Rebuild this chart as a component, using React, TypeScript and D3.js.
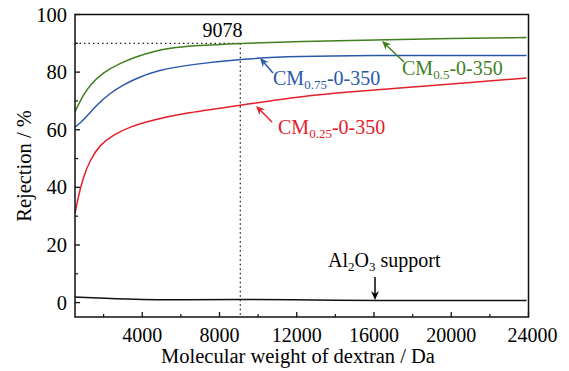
import React from "react";
import * as d3 from "d3";

const mwGreen = [518, 950, 1300, 1980, 2850, 3720, 4580, 5440, 6480, 9078, 12200, 16000, 20000, 23900];
const rejGreen = [66.3, 72.1, 75.6, 79.9, 83.1, 85.4, 87.2, 88.3, 89.1, 90, 90.6, 91.2, 91.7, 92];

const mwBlue = [518, 780, 1120, 1640, 2330, 3020, 3720, 4750, 6480, 9078, 12000, 16000, 20000, 23900];
const rejBlue = [60.9, 62.3, 64.6, 68.6, 72.7, 75.6, 77.9, 80.6, 82.6, 84.6, 85.5, 85.8, 85.8, 85.8];

const mwRed = [518, 690, 950, 1300, 1810, 2500, 3370, 4580, 6000, 9078, 12200, 15000, 18000, 21000, 23900];
const rejRed = [31, 36.8, 43.7, 49.5, 54.8, 58.2, 61.1, 63.4, 65.6, 68.5, 71.6, 73.3, 74.8, 76.4, 78];

const mwBlack = [518, 2000, 4000, 6000, 9000, 12000, 14000, 16000, 20000, 23900];
const rejBlack = [1.9, 1.5, 1.0, 0.9, 1.2, 1.0, 0.8, 0.7, 0.7, 0.7];

const xTicks = [4000, 8000, 12000, 16000, 20000, 24000];
const xMinor = [2000, 6000, 10000, 14000, 18000, 22000];
const yTicks = [0, 20, 40, 60, 80, 100];
const yMinor = [10, 30, 50, 70, 90];

const markMw = 9078;
const markRej = 90;

const W = 569, H = 371;
const L = 75, R = 528.5, T = 14.5, B = 317;

const ts = { fontFamily: "Liberation Serif" };

function Arrow({ x1, y1, x2, y2, color }: { x1: number; y1: number; x2: number; y2: number; color: string }) {
  const ang = Math.atan2(y2 - y1, x2 - x1);
  const hl = 9, hw = 4;
  const bx = x2 - hl * Math.cos(ang), by = y2 - hl * Math.sin(ang);
  const px = -Math.sin(ang) * hw, py = Math.cos(ang) * hw;
  const head = `M${x2},${y2}L${bx + px},${by + py}L${x2 - 6 * Math.cos(ang)},${y2 - 6 * Math.sin(ang)}L${bx - px},${by - py}Z`;
  return (
    <g>
      <line x1={x1} y1={y1} x2={x2 - 5 * Math.cos(ang)} y2={y2 - 5 * Math.sin(ang)} stroke={color} strokeWidth={1.5} />
      <path d={head} fill={color} />
    </g>
  );
}

export default function App() {
  const x = d3.scaleLinear().domain([518, 24000]).range([L, R]);
  const y = d3.scaleLinear().domain([-5, 100]).range([B, T]);

  const mk = (xs: number[], ys: number[]) =>
    d3.line<number>().x((_, i) => x(xs[i])).y((_, i) => y(ys[i])).curve(d3.curveBasis)(xs) || "";

  const green = "#3f7f1f";
  const blue = "#2a58aa";
  const red = "#e3202b";

  return (
    <svg width={W} height={H} style={{ position: "absolute", left: 0, top: 0 }}>
      <rect width={W} height={H} fill="#fff" />
      <line x1={L} x2={x(markMw)} y1={y(markRej)} y2={y(markRej)} stroke="#222" strokeWidth={1.3} strokeDasharray="1.5,3" />
      <line x1={x(markMw)} x2={x(markMw)} y1={y(markRej)} y2={B} stroke="#222" strokeWidth={1.3} strokeDasharray="1.5,3" />
      <text x={222.5} y={36.5} fontSize={20} textAnchor="middle" fill="#000" style={ts}>{markMw}</text>

      <path d={mk(mwGreen, rejGreen)} fill="none" stroke={green} strokeWidth={1.5} />
      <path d={mk(mwBlue, rejBlue)} fill="none" stroke={blue} strokeWidth={1.5} />
      <path d={mk(mwRed, rejRed)} fill="none" stroke={red} strokeWidth={1.5} />
      <path d={mk(mwBlack, rejBlack)} fill="none" stroke="#111" strokeWidth={1.5} />

      <rect x={L} y={T} width={R - L} height={B - T} fill="none" stroke="#111" strokeWidth={1.5} />

      {xTicks.map((t) => (
        <g key={"xt" + t}>
          <line x1={x(t)} x2={x(t)} y1={B} y2={B - 5} stroke="#111" strokeWidth={1.3} />
          <text x={x(t) + (t === 24000 ? 4 : 0)} y={342} fontSize={20} textAnchor="middle" fill="#000" style={ts}>{t}</text>
        </g>
      ))}
      {xMinor.map((t) => (
        <line key={"xm" + t} x1={x(t)} x2={x(t)} y1={B} y2={B - 3} stroke="#111" strokeWidth={1.2} />
      ))}
      {yTicks.map((t) => (
        <g key={"yt" + t}>
          <line x1={L} x2={L + 5} y1={y(t)} y2={y(t)} stroke="#111" strokeWidth={1.3} />
          <text x={67} y={y(t) + 7} fontSize={20.5} textAnchor="end" fill="#000" style={ts}>{t}</text>
        </g>
      ))}
      {yMinor.map((t) => (
        <line key={"ym" + t} x1={L} x2={L + 3} y1={y(t)} y2={y(t)} stroke="#111" strokeWidth={1.2} />
      ))}

      <text x={298} y={363} fontSize={20.5} textAnchor="middle" fill="#000" style={ts}>Molecular weight of dextran / Da</text>
      <text transform="translate(31,166) rotate(-90)" fontSize={20.5} textAnchor="middle" fill="#000" style={ts}>Rejection / %</text>

      <Arrow x1={404} y1={62} x2={382} y2={41} color={green} />
      <text x={402} y={75} fontSize={20} fill={green} style={ts}>
        CM<tspan fontSize={13} dy={4}>0.5</tspan><tspan dy={-4}>-0-350</tspan>
      </text>

      <Arrow x1={273} y1={73} x2={260} y2={58} color={blue} />
      <text x={273} y={85} fontSize={20} fill={blue} style={ts}>
        CM<tspan fontSize={13} dy={4}>0.75</tspan><tspan dy={-4}>-0-350</tspan>
      </text>

      <Arrow x1={272} y1={122} x2={256} y2={106} color={red} />
      <text x={278} y={134} fontSize={20} fill={red} style={ts}>
        CM<tspan fontSize={13} dy={4}>0.25</tspan><tspan dy={-4}>-0-350</tspan>
      </text>

      <text x={328} y={267} fontSize={20} fill="#000" style={ts}>
        Al<tspan fontSize={13} dy={4}>2</tspan><tspan dy={-4}>O</tspan><tspan fontSize={13} dy={4}>3</tspan><tspan dy={-4}> support</tspan>
      </text>
      <Arrow x1={375} y1={277} x2={375} y2={300} color="#000" />
    </svg>
  );
}
